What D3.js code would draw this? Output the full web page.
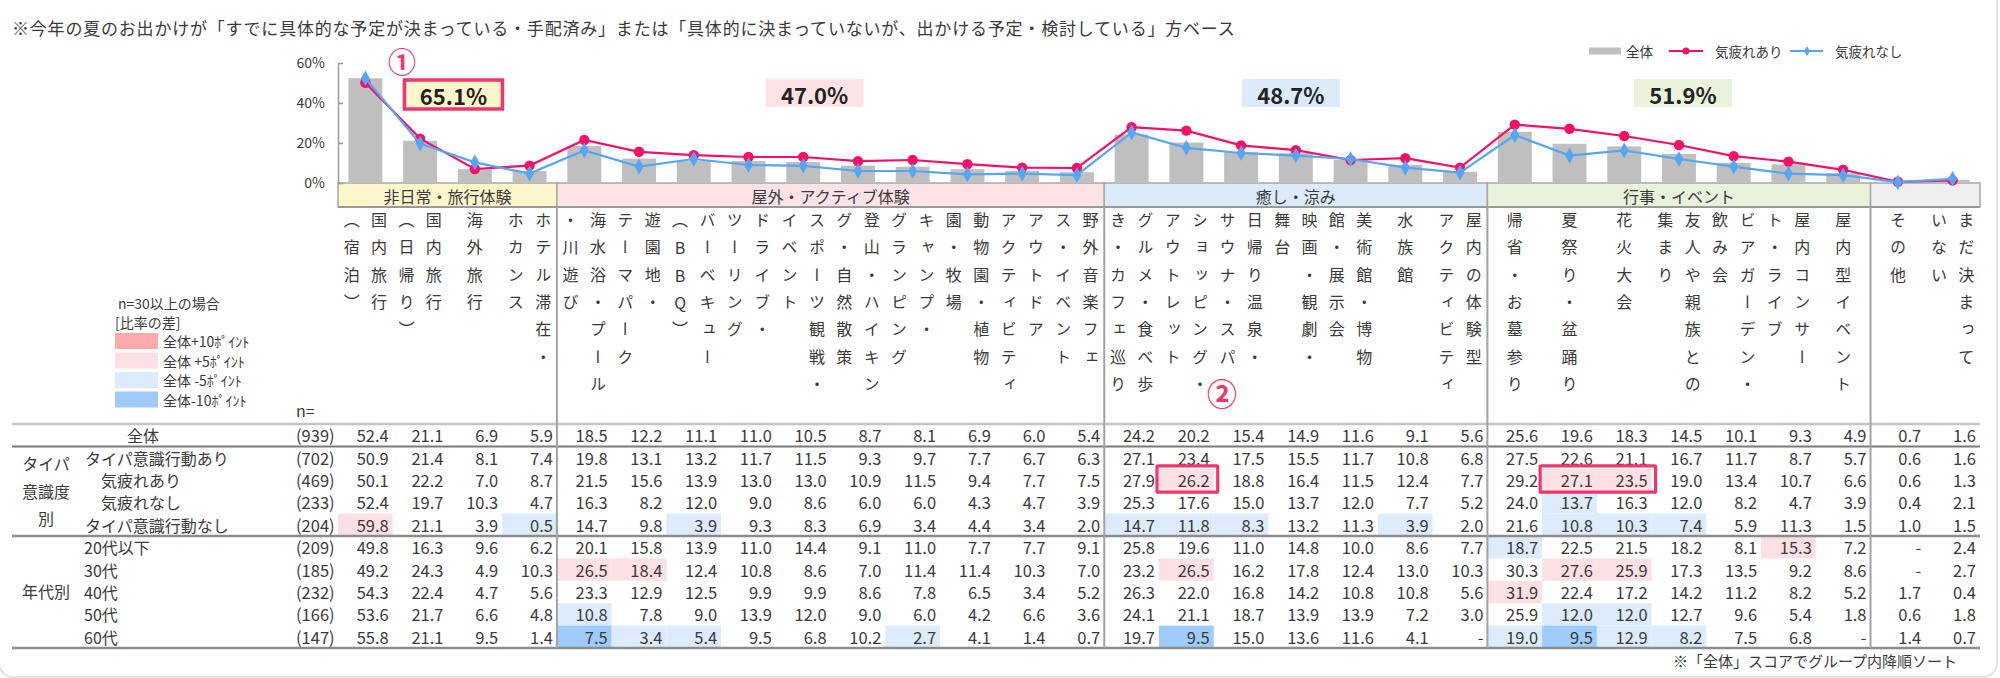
<!DOCTYPE html>
<html><head><meta charset="utf-8">
<script src="https://cdn.jsdelivr.net/npm/d3@7"></script>
<style>
body{margin:0;background:#fff;}
svg{display:block;font-family:"Noto Sans CJK JP","Noto Sans",sans-serif;}
</style></head><body>
<svg id="c" width="2000" height="678"></svg>
<script>
// ---------------- DATA ----------------
const titleText = "※今年の夏のお出かけが「すでに具体的な予定が決まっている・手配済み」または「具体的に決まっていないが、出かける予定・検討している」方ベース";
const groupNames  = ["非日常・旅行体験","屋外・アクティブ体験","癒し・涼み","行事・イベント",""];
const groupSizes  = [4,10,7,7,2];
const groupTotals = ["65.1%","47.0%","48.7%","51.9%",null];
const categories = [
  "国内旅行\n（宿泊）","国内旅行\n（日帰り）","海外旅行","ホテル滞在・\nホカンス",
  "海水浴・プール\n・川遊び","遊園地・\nテーマパーク","バーベキュー\n（BBQ）","ドライブ・\nツーリング","スポーツ観戦・\nイベント",
  "登山・ハイキン\nグ・自然散策","キャンプ・\nグランピング","動物園・植物\n園・牧場","アウトドア\nアクティビティ","野外音楽フェ\nス・イベント",
  "グルメ・食べ歩\nき・カフェ巡り","ショッピング・\nアウトレット","日帰り温泉・\nサウナ・スパ","映画・観劇・\n舞台","美術館・博物\n館・展示会","水族館","屋内の体験型\nアクティビティ",
  "帰省・お墓参り","夏祭り・盆踊り","花火大会","友人や親族との\n集まり","ビアガーデン・\n飲み会","屋内コンサー\nト・ライブ","屋内型イベント",
  "その他","まだ決まって\nいない"
];
const rowLabels = ["全体","タイパ意識行動あり","気疲れあり","気疲れなし","タイパ意識行動なし","20代以下","30代","40代","50代","60代"];
const rowN = [939,702,469,233,204,209,185,232,166,147];
const vAll        = [52.4,21.1,6.9,5.9, 18.5,12.2,11.1,11.0,10.5,8.7,8.1,6.9,6.0,5.4, 24.2,20.2,15.4,14.9,11.6,9.1,5.6, 25.6,19.6,18.3,14.5,10.1,9.3,4.9, 0.7,1.6];
const vTaipaAri   = [50.9,21.4,8.1,7.4, 19.8,13.1,13.2,11.7,11.5,9.3,9.7,7.7,6.7,6.3, 27.1,23.4,17.5,15.5,11.7,10.8,6.8, 27.5,22.6,21.1,16.7,11.7,8.7,5.7, 0.6,1.6];
const vTsukareAri = [50.1,22.2,7.0,8.7, 21.5,15.6,13.9,13.0,13.0,10.9,11.5,9.4,7.7,7.5, 27.9,26.2,18.8,16.4,11.5,12.4,7.7, 29.2,27.1,23.5,19.0,13.4,10.7,6.6, 0.6,1.3];
const vTsukareNashi=[52.4,19.7,10.3,4.7, 16.3,8.2,12.0,9.0,8.6,6.0,6.0,4.3,4.7,3.9, 25.3,17.6,15.0,13.7,12.0,7.7,5.2, 24.0,13.7,16.3,12.0,8.2,4.7,3.9, 0.4,2.1];
const vTaipaNashi = [59.8,21.1,3.9,0.5, 14.7,9.8,3.9,9.3,8.3,6.9,3.4,4.4,3.4,2.0, 14.7,11.8,8.3,13.2,11.3,3.9,2.0, 21.6,10.8,10.3,7.4,5.9,11.3,1.5, 1.0,1.5];
const v20s = [49.8,16.3,9.6,6.2, 20.1,15.8,13.9,11.0,14.4,9.1,11.0,7.7,7.7,9.1, 25.8,19.6,11.0,14.8,10.0,8.6,7.7, 18.7,22.5,21.5,18.2,8.1,15.3,7.2, null,2.4];
const v30s = [49.2,24.3,4.9,10.3, 26.5,18.4,12.4,10.8,8.6,7.0,11.4,11.4,10.3,7.0, 23.2,26.5,16.2,17.8,12.4,13.0,10.3, 30.3,27.6,25.9,17.3,13.5,9.2,8.6, null,2.7];
const v40s = [54.3,22.4,4.7,5.6, 23.3,12.9,12.5,9.9,9.9,8.6,7.8,6.5,3.4,5.2, 26.3,22.0,16.8,14.2,10.8,10.8,5.6, 31.9,22.4,17.2,14.2,11.2,8.2,5.2, 1.7,0.4];
const v50s = [53.6,21.7,6.6,4.8, 10.8,7.8,9.0,13.9,12.0,9.0,6.0,4.2,6.6,3.6, 24.1,21.1,18.7,13.9,13.9,7.2,3.0, 25.9,12.0,12.0,12.7,9.6,5.4,1.8, 0.6,1.8];
const v60s = [55.8,21.1,9.5,1.4, 7.5,3.4,5.4,9.5,6.8,10.2,2.7,4.1,1.4,0.7, 19.7,9.5,15.0,13.6,11.6,4.1,null, 19.0,9.5,12.9,8.2,7.5,6.8,null, 1.4,0.7];
const tableRows = [vAll,vTaipaAri,vTsukareAri,vTsukareNashi,vTaipaNashi,v20s,v30s,v40s,v50s,v60s];
const yTicks = [0,20,40,60];
const legendDiff = ["全体+10ﾎﾟｲﾝﾄ","全体 +5ﾎﾟｲﾝﾄ","全体 -5ﾎﾟｲﾝﾄ","全体-10ﾎﾟｲﾝﾄ"];
const seriesNames = ["全体","気疲れあり","気疲れなし"];
// annotations (cells boxed in red): [row, firstCol, lastCol]
const redBoxes = [[2,15,15],[2,22,23]];

// ---------------- STYLE ----------------
const groupFill = ["#fef6cb","#fde3e6","#dcebfb","#e9f3db","#efefef"];
const diffFill = {p10:"#ffabab",p5:"#fde0e4",m5:"#dcecfc",m10:"#9ecbfa"};
const RED="#fa0f66", BLUE="#55a7f5", BAR="#bfbfbf", ACC="#f0366c", TXT="#3a3a3a";

const svg = d3.select("#c");
// frame
svg.append("rect").attr("x",-1).attr("y",-30).attr("width",1998).attr("height",707)
  .attr("rx",14).attr("fill","none").attr("stroke","#e2e2e2").attr("stroke-width",2);

svg.append("text").attr("x",12).attr("y",27).attr("dominant-baseline","central")
  .style("font-size","17px").style("letter-spacing","0.8px").attr("fill",TXT).text(titleText);

const N = categories.length;
const x = d3.scaleBand().domain(d3.range(N)).range([338,1980]).paddingInner(0.38).paddingOuter(0.19);
const slot = d3.scaleLinear().domain([0,N]).range([338,1980]);
const step = slot(1)-slot(0);
const y = d3.scaleLinear().domain([0,60]).range([183,63]);

// groups
let starts=[]; let acc=0; groupSizes.forEach(s=>{starts.push(acc); acc+=s;});
const groups = groupNames.map((g,i)=>({name:g,start:starts[i],end:starts[i]+groupSizes[i],i}));

// bands
const bandG = svg.append("g");
groups.forEach(g=>{
  bandG.append("rect").attr("x",slot(g.start)).attr("y",183).attr("width",slot(g.end)-slot(g.start)).attr("height",24)
    .attr("fill",groupFill[g.i]).attr("stroke","#a8a8a8").attr("stroke-width",1.5);
  if(g.name) bandG.append("text").attr("x",(slot(g.start)+slot(g.end))/2).attr("y",195.5)
    .attr("text-anchor","middle").attr("dominant-baseline","central").style("font-size","16px").attr("fill",TXT).text(g.name);
});
svg.append("line").attr("x1",338).attr("x2",1980).attr("y1",207).attr("y2",207).attr("stroke","#999").attr("stroke-width",2);

// bars
svg.append("g").selectAll("rect").data(vAll).join("rect")
  .attr("x",(d,i)=>x(i)).attr("width",x.bandwidth()).attr("y",d=>y(d)).attr("height",d=>y(0)-y(d)).attr("fill",BAR);

// axis
const ax = svg.append("g").attr("transform","translate(338,0)")
  .call(d3.axisLeft(y).tickValues(yTicks).tickSize(-5).tickSizeOuter(0).tickPadding(13).tickFormat(d=>d+"%"));
ax.select(".domain").attr("stroke","#999").attr("stroke-width",1.5);
ax.selectAll(".tick line").attr("stroke","#999").attr("stroke-width",1.5);
ax.selectAll(".tick text").style("font-size","14px").style("font-family","'Noto Sans CJK JP',sans-serif").attr("fill",TXT);

// lines
const cx = i => x(i)+x.bandwidth()/2;
const lineGen = d3.line().x((d,i)=>cx(i)).y(d=>y(d));
svg.append("path").datum(vTsukareAri).attr("d",lineGen).attr("fill","none").attr("stroke",RED).attr("stroke-width",2.2);
svg.append("g").selectAll("circle").data(vTsukareAri).join("circle")
  .attr("cx",(d,i)=>cx(i)).attr("cy",d=>y(d)).attr("r",5.2).attr("fill",RED);
svg.append("path").datum(vTsukareNashi).attr("d",lineGen).attr("fill","none").attr("stroke",BLUE).attr("stroke-width",2.2);
const diamond = d3.symbol().type(d3.symbolDiamond).size(70);
svg.append("g").selectAll("path").data(vTsukareNashi).join("path")
  .attr("d",diamond).attr("transform",(d,i)=>`translate(${cx(i)},${y(d)})`).attr("fill",BLUE);

// group total boxes
const boxShift=[6,-16,-5,4,0];
groups.forEach(g=>{
  if(!groupTotals[g.i]) return;
  const mx=(slot(g.start)+slot(g.end))/2+boxShift[g.i];
  const first = g.i===0;
  svg.append("rect").attr("x",mx-49).attr("y",first?80:79).attr("width",98).attr("height",first?29:28)
    .attr("fill",groupFill[g.i]).attr("stroke",first?ACC:"none").attr("stroke-width",3.5);
  svg.append("text").attr("x",mx).attr("y",first?95:93.5).attr("text-anchor","middle").attr("dominant-baseline","central")
    .style("font-size","22px").style("font-weight","bold").attr("fill","#222").text(groupTotals[g.i]);
});
// circled numbers
svg.append("text").attr("x",402).attr("y",61).attr("text-anchor","middle").attr("dominant-baseline","central")
  .style("font-size","28px").style("font-weight","bold").attr("fill",ACC).text("①");
svg.append("text").attr("x",1222).attr("y",392).attr("text-anchor","middle").attr("dominant-baseline","central")
  .style("font-size","30px").style("font-weight","bold").attr("fill",ACC).text("②");

// legend top right
const lg = svg.append("g").style("font-size","13.5px").attr("fill",TXT);
lg.append("rect").attr("x",1589).attr("y",47.5).attr("width",32).attr("height",7).attr("fill",BAR);
lg.append("text").attr("x",1626).attr("y",51).attr("dominant-baseline","central").text(seriesNames[0]);
lg.append("line").attr("x1",1669).attr("x2",1703).attr("y1",51).attr("y2",51).attr("stroke",RED).attr("stroke-width",2);
lg.append("circle").attr("cx",1686).attr("cy",51).attr("r",3.5).attr("fill",RED);
lg.append("text").attr("x",1715).attr("y",51).attr("dominant-baseline","central").text(seriesNames[1]);
lg.append("line").attr("x1",1790).attr("x2",1823).attr("y1",51).attr("y2",51).attr("stroke",BLUE).attr("stroke-width",2);
lg.append("path").attr("d",d3.symbol().type(d3.symbolDiamond).size(30)).attr("transform","translate(1807,51)").attr("fill",BLUE);
lg.append("text").attr("x",1835).attr("y",51).attr("dominant-baseline","central").text(seriesNames[2]);

// vertical category labels
const labelG = svg.append("g").style("font-size","16px").attr("fill",TXT);
categories.forEach((lab,i)=>{
  const cols = lab.split("\n");
  cols.forEach((col,j)=>{
    const colX = cols.length===1 ? cx(i) : cx(i) + (j===0 ? 13.7 : -13.7);
    Array.from(col).forEach((ch,k)=>{
      const cy = 220 + 27.3*k;
      const t = labelG.append("text").attr("x",colX).attr("y",cy).text(ch);
      if(/[A-Za-z0-9]/.test(ch)) t.attr("text-anchor","middle").attr("dominant-baseline","central");
      else t.style("writing-mode","vertical-rl").attr("text-anchor","middle");
    });
  });
});

// left legend
const ll = svg.append("g").style("font-size","14px").attr("fill",TXT);
ll.append("text").attr("x",118).attr("y",303).attr("dominant-baseline","central").text("n=30以上の場合");
ll.append("text").attr("x",115).attr("y",322).attr("dominant-baseline","central").text("[比率の差]");
const dKeys=["p10","p5","m5","m10"];
legendDiff.forEach((t,i)=>{
  const yy = 341 + 19.5*i;
  ll.append("rect").attr("x",115).attr("y",yy-8).attr("width",43).attr("height",16).attr("fill",diffFill[dKeys[i]]);
  ll.append("text").attr("x",163).attr("y",yy).attr("dominant-baseline","central").text(t);
});
svg.append("text").attr("x",296).attr("y",410).attr("dominant-baseline","central").style("font-size","16px").attr("fill",TXT).text("n=");

// table
const ry = d3.scaleBand().domain(d3.range(rowLabels.length)).range([424,648]);
const tg = svg.append("g");
function diffClass(v,base){
  if(v===null||base===null) return null;
  const d=v-base;
  if(d>=9.95) return "p10"; if(d>5.04) return "p5";
  if(d<=-9.95) return "m10"; if(d<-5.04) return "m5";
  return null;
}
tableRows.forEach((row,r)=>{
  if(r>0) row.forEach((v,i)=>{
    const c=diffClass(v,vAll[i]);
    if(c) tg.append("rect").attr("x",slot(i)).attr("y",ry(r)).attr("width",step).attr("height",ry.bandwidth()).attr("fill",diffFill[c]);
  });
});
// lines
const hl=(yy,col,w)=>tg.append("line").attr("x1",12).attr("x2",1980).attr("y1",yy).attr("y2",yy).attr("stroke",col).attr("stroke-width",w);
hl(424,"#c4c4c4",2.5);
hl(ry(1),"#7a7a7a",2);
hl(ry(5),"#8c8c8c",2.5);
hl(648,"#8c8c8c",2.5);
groups.slice(0,4).forEach(g=>{
  tg.append("line").attr("x1",slot(g.end)).attr("x2",slot(g.end)).attr("y1",207).attr("y2",648).attr("stroke","#a3a3a3").attr("stroke-width",2);
});
const numG = svg.append("g").style("font-size","16.5px").attr("fill",TXT);
tableRows.forEach((row,r)=>{
  const yc = ry(r)+ry.bandwidth()/2;
  row.forEach((v,i)=>{
    numG.append("text").attr("x",slot(i+1)-4).attr("y",yc).attr("text-anchor","end").attr("dominant-baseline","central")
      .text(v===null?"-":v.toFixed(1));
  });
  numG.append("text").attr("x",296).attr("y",yc).attr("dominant-baseline","central").text("("+rowN[r]+")");
  const lx = r===0?143:(r===2||r===3?101:(r<5?85:84));
  numG.append("text").attr("x",lx).attr("y",yc).attr("dominant-baseline","central").attr("text-anchor",r===0?"middle":"start")
    .style("font-size","16px").text(rowLabels[r]);
});
// row group labels
const rg = svg.append("g").style("font-size","16px").attr("fill",TXT).attr("text-anchor","middle");
["タイパ","意識度","別"].forEach((t,i)=>rg.append("text").attr("x",46).attr("y",463+27.5*i).attr("dominant-baseline","central").text(t));
rg.append("text").attr("x",46).attr("y",591).attr("dominant-baseline","central").text("年代別");

// red boxes
redBoxes.forEach(([r,c0,c1])=>{
  svg.append("rect").attr("x",slot(c0)-2).attr("y",ry(r)-3).attr("width",slot(c1+1)-slot(c0)+6).attr("height",ry.bandwidth()+4)
    .attr("fill","none").attr("stroke",ACC).attr("stroke-width",3.2).attr("rx",1);
});

svg.append("text").attr("x",1957).attr("y",660).attr("text-anchor","end").attr("dominant-baseline","central")
  .style("font-size","15px").attr("fill",TXT).text("※「全体」スコアでグループ内降順ソート");
</script>
</body></html>
